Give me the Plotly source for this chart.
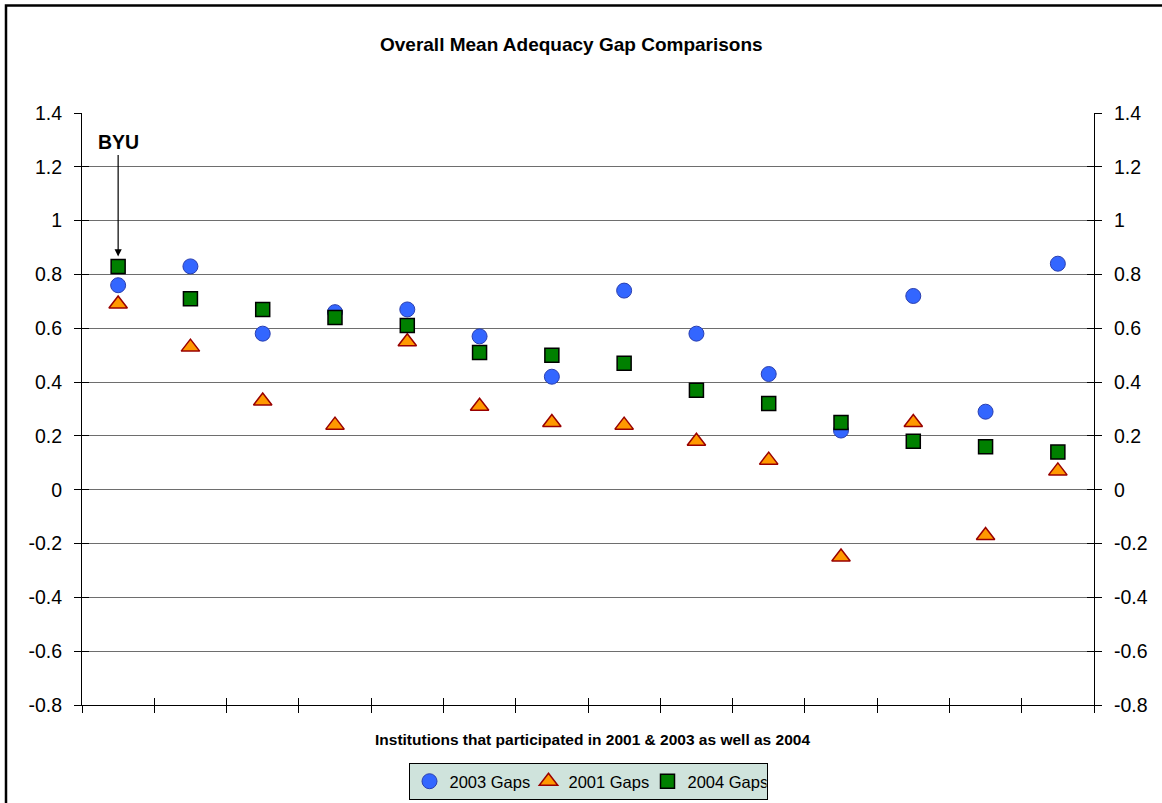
import plotly.graph_objects as go

# Institutions (unnamed), numbered left to right; the first one is BYU
institutions = list(range(1, 15))

gaps_2003 = [0.76, 0.83, 0.58, 0.66, 0.67, 0.57, 0.42, 0.74, 0.58, 0.43, 0.22, 0.72, 0.29, 0.84]
gaps_2001 = [0.69, 0.53, 0.33, 0.24, 0.55, 0.31, 0.25, 0.24, 0.18, 0.11, -0.25, 0.25, -0.17, 0.07]
gaps_2004 = [0.83, 0.71, 0.67, 0.64, 0.61, 0.51, 0.50, 0.47, 0.37, 0.32, 0.25, 0.18, 0.16, 0.14]

y_ticks = [1.4, 1.2, 1.0, 0.8, 0.6, 0.4, 0.2, 0.0, -0.2, -0.4, -0.6, -0.8]
y_tick_labels = ["1.4", "1.2", "1", "0.8", "0.6", "0.4", "0.2", "0", "-0.2", "-0.4", "-0.6", "-0.8"]

# category boundaries for the x tick marks
x_bounds = [i + 0.5 for i in range(0, 15)]

FONT = "Liberation Sans, Arial, sans-serif"
GRID = "#6e6e6e"

fig = go.Figure()
fig.add_trace(go.Scatter(
    x=institutions, y=gaps_2003, mode="markers", name="2003 Gaps",
    marker=dict(symbol="circle", size=15, color="#3366ff",
                line=dict(color="#2a3fb0", width=1)),
))
fig.add_trace(go.Scatter(
    x=institutions, y=gaps_2001, mode="markers", name="2001 Gaps",
    marker=dict(symbol="triangle-up", size=16, color="#ff9900",
                line=dict(color="#990000", width=1.5)),
))
fig.add_trace(go.Scatter(
    x=institutions, y=gaps_2004, mode="markers", name="2004 Gaps",
    marker=dict(symbol="square", size=14, color="#008000",
                line=dict(color="#000000", width=1.5)),
))

y_common = dict(range=[-0.8, 1.4], tickvals=y_ticks, ticktext=y_tick_labels,
                showgrid=False, zeroline=False, fixedrange=True,
                tickfont=dict(size=19.5), ticklabelstandoff=8)

fig.update_layout(
    width=1162, height=803,
    margin=dict(l=82, r=68, t=113, b=98, autoexpand=False),
    paper_bgcolor="white", plot_bgcolor="white",
    font=dict(family=FONT, size=17, color="black"),
    showlegend=True,
    legend=dict(
        orientation="h", x=0.5, xanchor="center",
        yref="container", y=1 - 763 / 803, yanchor="top",
        bgcolor="#cfe3dc", bordercolor="#000000", borderwidth=1,
        font=dict(size=16.5), itemwidth=30, tracegroupgap=0,
        entrywidth=74, entrywidthmode="pixels",
    ),
    xaxis=dict(
        range=[0.5, 14.5], tickvals=x_bounds, showticklabels=False,
        ticks="outside", ticklen=7, tickcolor="black",
        showline=True, linecolor="black", linewidth=1,
        showgrid=False, zeroline=False,
    ),
    xaxis2=dict(
        overlaying="x", range=[0.5, 14.5], tickvals=x_bounds, showticklabels=False,
        ticks="inside", ticklen=7, tickcolor="black", side="bottom",
        showline=False, showgrid=False, zeroline=False,
    ),
    yaxis=dict(
        **{k: v for k, v in y_common.items() if k != "showgrid"},
        showgrid=True, gridcolor=GRID, gridwidth=1,
        ticks="outside", ticklen=7, tickcolor="black",
        showline=True, linecolor="black", linewidth=1,
    ),
    yaxis2=dict(
        **y_common, overlaying="y", side="right",
        ticks="outside", ticklen=7, tickcolor="black",
        showline=True, linecolor="black", linewidth=1,
    ),
    yaxis3=dict(
        **y_common, overlaying="y", side="left", showticklabels=False,
        ticks="inside", ticklen=7, tickcolor="black",
    ),
    yaxis4=dict(
        **y_common, overlaying="y", side="right", showticklabels=False,
        ticks="inside", ticklen=7, tickcolor="black",
    ),
)

# hidden traces so the extra tick axes are drawn
for ax_x, ax_y in [("x2", "y2"), ("x2", "y3"), ("x2", "y4")]:
    fig.add_trace(go.Scatter(x=[None], y=[None], xaxis=ax_x, yaxis=ax_y,
                             showlegend=False, hoverinfo="skip"))

fig.add_annotation(
    text="<b>Overall Mean Adequacy Gap Comparisons</b>",
    xref="paper", yref="paper", x=0.4837, y=1.115, xanchor="center", yanchor="middle",
    showarrow=False, font=dict(size=19),
)
fig.add_annotation(
    text="<b>Institutions that participated in 2001 &amp; 2003 as well as 2004</b>",
    xref="paper", yref="paper", x=0.504, y=-0.059, xanchor="center", yanchor="middle",
    showarrow=False, font=dict(size=15.5),
)
# BYU call-out arrow pointing at its 2004 marker
fig.add_annotation(
    text="<b>BYU</b>", x=institutions[0], y=gaps_2004[0], xref="x", yref="y",
    showarrow=True, arrowhead=2, arrowsize=1.2, arrowwidth=1.2, arrowcolor="black",
    ax=0, ay=-124, standoff=10, font=dict(size=19.5),
)

# outer chart frame (left and top edges are the ones inside the page)
fig.add_shape(type="path", xref="paper", yref="paper",
              path="M -0.0751,-0.6 L -0.0751,1.1816 L 1.3,1.1816",
              line=dict(color="black", width=2.5), layer="below")

fig.write_html("out.html")
